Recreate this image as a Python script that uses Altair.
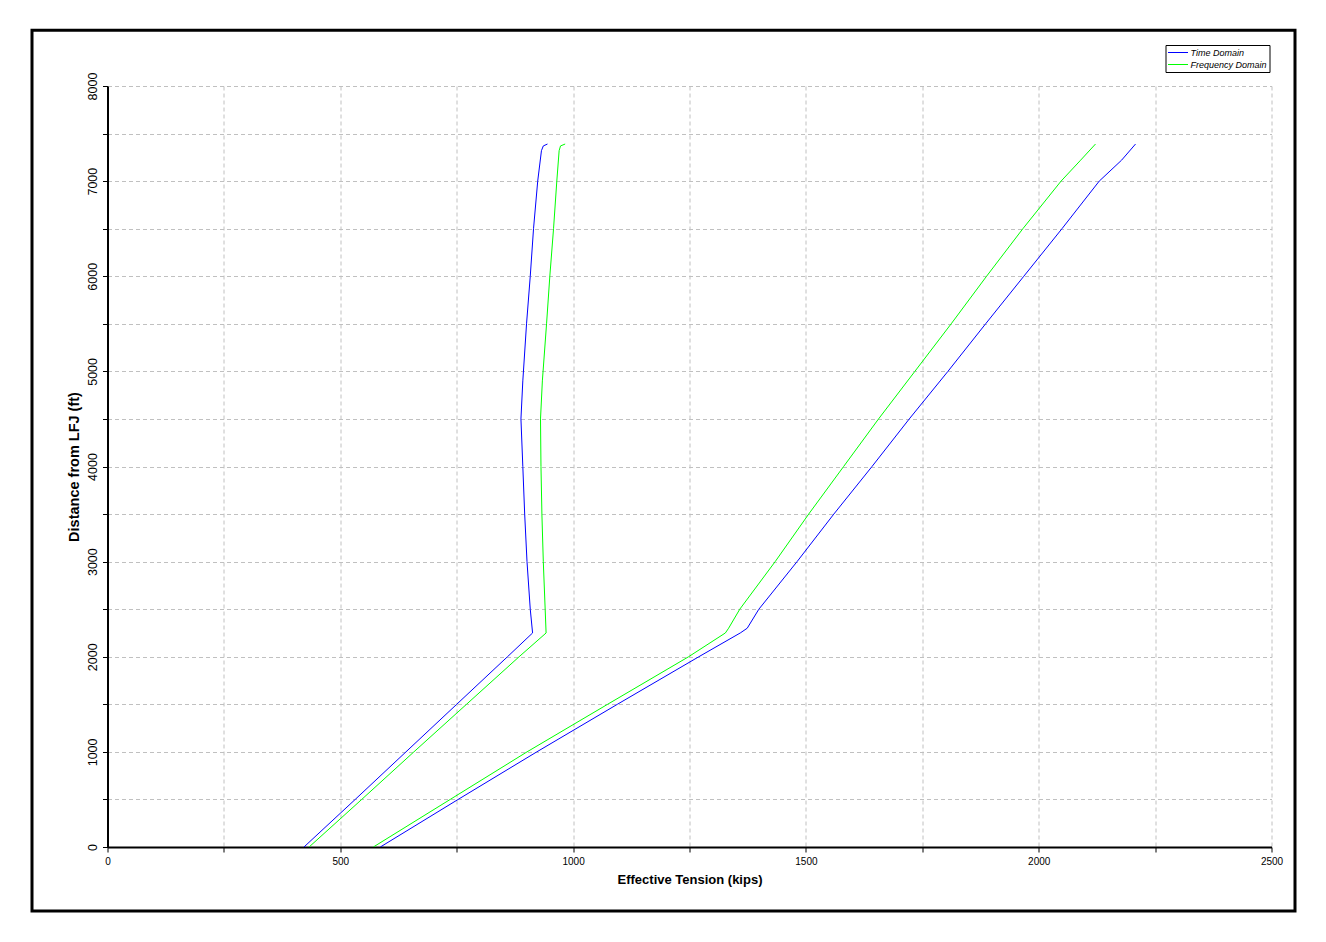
import altair as alt
import pandas as pd

# ---- data (tension in kips, distance in ft) ----
low_dist = [0, 500, 1000, 1500, 2000, 2250, 2500, 3000, 3500, 4000, 4500, 4900,
            5500, 6000, 6500, 7000, 7320, 7370, 7390]
td_low_tension = [422, 532, 641, 750, 859, 913, 908, 901, 896, 892, 888, 892,
                  900, 908, 915, 924, 932, 936, 945]
fd_low_tension = [433, 546, 658, 771, 884, 942, 940, 936, 933, 931, 930, 934,
                  943, 950, 958, 965, 970, 973, 983]

high_dist = [0, 500, 1000, 1500, 2000, 2250, 2300, 2500, 3000, 3500, 4000, 4500,
             5000, 5500, 6000, 6500, 7000, 7220, 7390]
td_high_tension = [586, 753, 922, 1095, 1270, 1359, 1374, 1399, 1481, 1560, 1642, 1722,
                   1805, 1886, 1968, 2050, 2130, 2178, 2208]
fd_high_tension = [571, 736, 901, 1074, 1248, 1327, 1334, 1358, 1434, 1506, 1581, 1656,
                   1734, 1812, 1888, 1966, 2048, 2090, 2122]

series_names = ["Time Domain", "Frequency Domain"]
series_colors = ["#0000ff", "#00ff00"]

rows = []
for name, branch, xs, ys in [
    ("Time Domain", "low", td_low_tension, low_dist),
    ("Time Domain", "high", td_high_tension, high_dist),
    ("Frequency Domain", "low", fd_low_tension, low_dist),
    ("Frequency Domain", "high", fd_high_tension, high_dist),
]:
    for i, (x, y) in enumerate(zip(xs, ys)):
        rows.append({"series": name, "branch": name + branch, "idx": i,
                     "tension": x, "dist": y})
df = pd.DataFrame(rows)

x_ticks = list(range(0, 2501, 250))
y_ticks = list(range(0, 8001, 500))

FONT = "Liberation Sans"

lines = alt.Chart(df).mark_line(strokeWidth=1, clip=True).encode(
    x=alt.X("tension:Q",
            scale=alt.Scale(domain=[0, 2500], nice=False, zero=False),
            axis=alt.Axis(values=x_ticks, format="d", labelFlush=False,
                          labelExpr="datum.value % 500 == 0 ? datum.label : ''",
                          labelFontSize=10, labelPadding=4,
                          title="Effective Tension (kips)", titleFontSize=13,
                          titlePadding=7)),
    y=alt.Y("dist:Q",
            scale=alt.Scale(domain=[0, 8000], nice=False, zero=False),
            axis=alt.Axis(values=y_ticks, format="d", labelFlush=False,
                          labelExpr="datum.value % 1000 == 0 ? datum.label : ''",
                          labelAngle=270, labelAlign="center",
                          labelBaseline="alphabetic", labelPadding=6,
                          labelFontSize=12.5,
                          title="Distance from LFJ (ft)", titleFontSize=14.5,
                          titlePadding=5)),
    color=alt.Color("series:N",
                    scale=alt.Scale(domain=series_names, range=series_colors),
                    legend=alt.Legend(title=None, orient="none",
                                      legendX=1058, legendY=-41,
                                      symbolType="stroke", symbolSize=400,
                                      symbolStrokeWidth=1, clipHeight=11,
                                      labelFont=FONT, labelFontSize=9,
                                      labelFontStyle="italic", labelColor="#000000",
                                      labelOffset=2, rowPadding=1, padding=2,
                                      strokeColor="#000000", fillColor="#ffffff",
                                      cornerRadius=0)),
    detail="branch:N",
    order="idx:Q",
)

frame = alt.Chart(pd.DataFrame({"a": [0]})).mark_rect(
    fillOpacity=0, stroke="#000000", strokeWidth=3, clip=False
).encode(
    x=alt.value(-75.5), x2=alt.value(1187.5),
    y=alt.value(-55.7), y2=alt.value(825)
)

chart = alt.layer(lines, frame).properties(
    width=1164, height=761,
    autosize=alt.AutoSizeParams(type="none"),
    padding={"left": 99.5, "top": 78, "right": 35, "bottom": 80},
    background="#ffffff",
).configure_view(stroke=None).configure_axis(
    domainColor="#000000", domainWidth=2,
    tickColor="#000000", tickWidth=1, tickSize=5,
    gridColor="#c0c0c0", gridDash=[4, 3], gridWidth=1,
    labelFont=FONT, labelColor="#000000",
    titleFont=FONT, titleFontWeight="bold", titleColor="#000000",
)

chart.save("out.html", embed_options={"renderer": "svg", "actions": False})
